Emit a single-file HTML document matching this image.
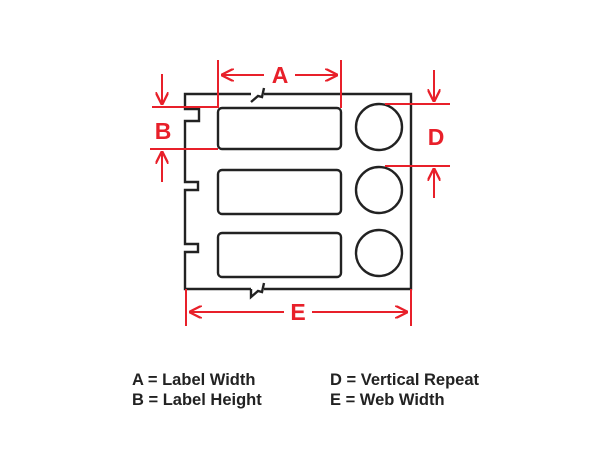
<!DOCTYPE html>
<html><head><style>body{margin:0;background:#fff}svg{display:block}</style></head><body>
<svg width="600" height="450" viewBox="0 0 600 450" xmlns="http://www.w3.org/2000/svg">
<defs>
<marker id="ar" viewBox="0 0 10 10" refX="10" refY="5" markerWidth="13" markerHeight="13" markerUnits="userSpaceOnUse" orient="auto"><path d="M0,0 L10,5 L0,10" fill="none" stroke="#e8202a" stroke-width="1.8"/></marker>
</defs>
<g fill="none" stroke="#222" stroke-width="2.4">
<path d="M251,94 H185 V109 H199 V121 H185 V182 H198 V190 H185 V244 H198 V252 H185 V289 H251"/>
<path d="M251,289 L251,297 L258,291 L262,292 L264,283"/>
<path d="M264,289 H411 V94 H264"/>
<path d="M251,102 L258,96 L262,97 L264,88"/>
<rect x="218" y="108" width="123" height="41" rx="4"/>
<rect x="218" y="170" width="123" height="44" rx="4"/>
<rect x="218" y="233" width="123" height="44" rx="4"/>
<circle cx="379" cy="127" r="23"/>
<circle cx="379" cy="190" r="23"/>
<circle cx="379" cy="253" r="23"/>
</g>
<g stroke="#e8202a" stroke-width="2" fill="none">
<line x1="218" y1="60" x2="218" y2="108"/>
<line x1="341" y1="60" x2="341" y2="108"/>
<line x1="264" y1="75" x2="221" y2="75" marker-end="url(#ar)"/>
<line x1="295" y1="75" x2="338" y2="75" marker-end="url(#ar)"/>
<line x1="152" y1="107" x2="218" y2="107"/>
<line x1="150" y1="149" x2="218" y2="149"/>
<line x1="162" y1="74" x2="162" y2="105" marker-end="url(#ar)"/>
<line x1="162" y1="182" x2="162" y2="151" marker-end="url(#ar)"/>
<line x1="385" y1="104" x2="450" y2="104"/>
<line x1="385" y1="166" x2="450" y2="166"/>
<line x1="434" y1="70" x2="434" y2="102" marker-end="url(#ar)"/>
<line x1="434" y1="198" x2="434" y2="168" marker-end="url(#ar)"/>
<line x1="186" y1="289" x2="186" y2="326"/>
<line x1="411" y1="289" x2="411" y2="326"/>
<line x1="284" y1="312" x2="189" y2="312" marker-end="url(#ar)"/>
<line x1="312" y1="312" x2="408" y2="312" marker-end="url(#ar)"/>
</g>
<g fill="#e8202a" font-family="Liberation Sans, sans-serif" font-weight="bold" font-size="23" text-anchor="middle">
<text x="280" y="83">A</text>
<text x="163" y="139">B</text>
<text x="436" y="145">D</text>
<text x="298" y="320">E</text>
</g>
<g fill="#222" font-family="Liberation Sans, sans-serif" font-weight="bold" font-size="16.5">
<text x="132" y="385">A = Label Width</text>
<text x="132" y="405">B = Label Height</text>
<text x="330" y="385">D = Vertical Repeat</text>
<text x="330" y="405">E = Web Width</text>
</g>
</svg>
</body></html>
